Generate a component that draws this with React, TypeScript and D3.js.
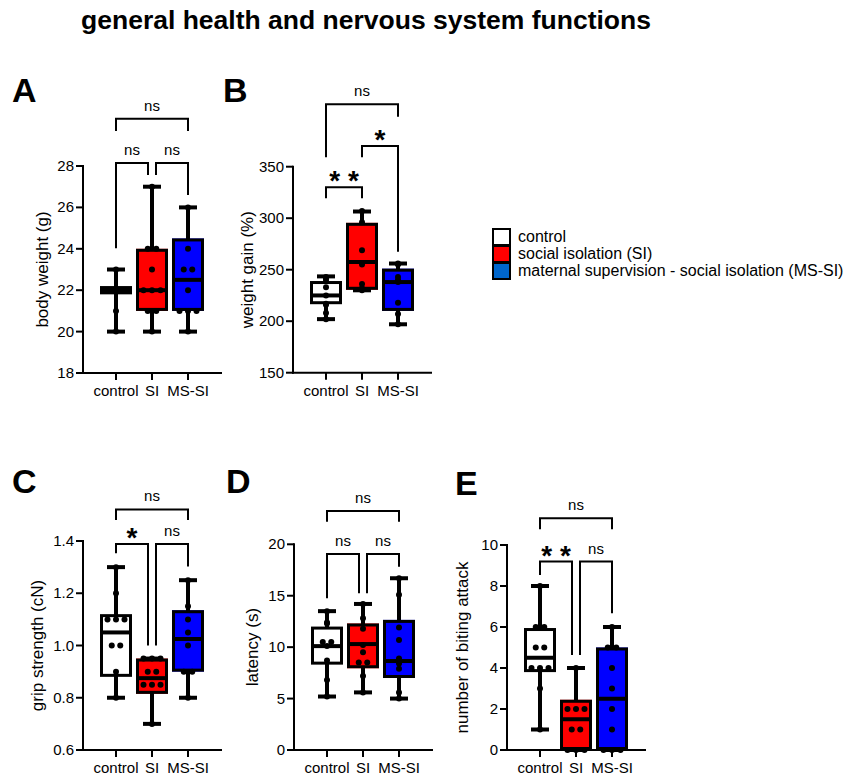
import { useEffect, useRef } from 'react';
import * as d3 from 'd3';

const groups = ['control', 'SI', 'MS-SI'];
const groupFills = ['#ffffff', '#ff0000', '#0000ff'];
const legendLabels = [
  'control',
  'social isolation (SI)',
  'maternal supervision - social isolation (MS-SI)',
];
const legendFills = ['#ffffff', '#ff0000', '#0066cc'];

// box stats per group: [min, q1, median, q3, max]
const bodyWeightBox = [
  [20, 21.8, 22, 22.2, 23],
  [20, 21, 22, 24, 27],
  [20, 21, 22.5, 24.5, 26],
];
const bodyWeightPoints = [
  [20, 21, 22, 22, 22, 22, 23],
  [20, 21, 21, 22, 22, 22, 23, 24, 24, 27],
  [20, 21, 21, 21, 22, 23, 23, 24, 26],
];
const bodyWeightTicks = [18, 20, 22, 24, 26, 28];
const bodyWeightBrackets = [
  { from: 0, to: 2, label: 'ns', level: 30.28, legs: [29.69, 29.69] },
  { from: 0, to: 1, label: 'ns', level: 28.15, legs: [24.03, 27.56] },
  { from: 1, to: 2, label: 'ns', level: 28.15, legs: [27.56, 26.6] },
];

const weightGainBox = [
  [202, 216.5, 225, 239, 243.5],
  [230, 230.5, 257.5, 295.5, 306.5],
  [197, 210, 238, 251, 256],
];
const weightGainPoints = [
  [202, 208, 216, 217, 225, 233, 240, 242, 243],
  [230, 231, 232, 236, 255, 269, 296, 307],
  [197, 207, 218, 238, 240, 243, 255, 256],
];
const weightGainTicks = [150, 200, 250, 300, 350];
const weightGainBrackets = [
  { from: 0, to: 2, label: 'ns', level: 410.6, legs: [359.1, 398.5] },
  { from: 1, to: 2, label: '*', level: 370.1, legs: [359.1, 267.5] },
  { from: 0, to: 1, label: '**', level: 330, legs: [319.3, 319.3] },
];

const gripBox = [
  [0.8, 0.88, 1.05, 1.12, 1.3],
  [0.7, 0.815, 0.875, 0.95, 0.95],
  [0.8, 0.9, 1.025, 1.135, 1.25],
];
const gripPoints = [
  [0.8, 0.9, 1.0, 1.0, 1.1, 1.1, 1.1, 1.2, 1.3],
  [0.7, 0.85, 0.85, 0.85, 0.9, 0.9, 0.95, 0.95, 0.95],
  [0.8, 0.9, 0.9, 1.0, 1.05, 1.1, 1.15, 1.25],
];
const gripTicks = [0.6, 0.8, 1.0, 1.2, 1.4];
const gripBrackets = [
  { from: 0, to: 2, label: 'ns', level: 1.521, legs: [1.48, 1.48] },
  { from: 0, to: 1, label: '*', level: 1.3885, legs: [1.353, 1.0] },
  { from: 1, to: 2, label: 'ns', level: 1.3885, legs: [1.0, 1.302] },
];

const latencyBox = [
  [5.2, 8.3, 10.1, 12.0, 13.5],
  [5.6, 7.95, 10.3, 12.3, 14.2],
  [5.0, 7.0, 8.65, 12.65, 16.7],
];
const latencyPoints = [
  [5.2, 6.8, 8.7, 10.1, 10.5, 10.5, 12.3, 12.4, 13.5],
  [5.6, 7.2, 8.5, 8.5, 9.5, 10.2, 11.8, 12.8, 14.2],
  [5.0, 5.6, 7.9, 8.4, 8.9, 10.7, 11.9, 15.1, 16.7],
];
const latencyTicks = [0, 5, 10, 15, 20];
const latencyBrackets = [
  { from: 0, to: 2, label: 'ns', level: 23.24, legs: [22.2, 22.2] },
  { from: 0, to: 1, label: 'ns', level: 19.06, legs: [14.75, 15.23] },
  { from: 1, to: 2, label: 'ns', level: 19.06, legs: [15.23, 17.82] },
];

const bitingBox = [
  [1, 3.8, 4.5, 5.95, 8],
  [0, 0, 1.5, 2.45, 4],
  [0, 0, 2.5, 5, 6],
];
const bitingPoints = [
  [1, 3, 4, 4, 4, 5, 5, 6, 6, 8],
  [0, 0, 0, 1, 1, 2, 2, 2, 4],
  [0, 0, 0, 1, 2, 3, 4, 5, 5, 6],
];
const bitingTicks = [0, 2, 4, 6, 8, 10];
const bitingBrackets = [
  { from: 0, to: 2, label: 'ns', level: 11.3, legs: [10.77, 10.77] },
  { from: 0, to: 1, label: '**', level: 9.19, legs: [8.54, 4.63] },
  { from: 1, to: 2, label: 'ns', level: 9.19, legs: [4.63, 6.67] },
];

const FONT = "'Liberation Sans', Arial, sans-serif";

const panels = [
  {
    letter: 'A', letterX: 12, letterY: 102, yLabel: 'body weight (g)', labelOff: 35,
    x0: 83, top: 166, bottom: 373, domain: [18, 28], fmt: d3.format('d'),
    box: bodyWeightBox, points: bodyWeightPoints, ticks: bodyWeightTicks, brackets: bodyWeightBrackets,
  },
  {
    letter: 'B', letterX: 223, letterY: 102, yLabel: 'weight gain (%)', labelOff: 40,
    x0: 293, top: 166.7, bottom: 372.7, domain: [150, 350], fmt: d3.format('d'),
    box: weightGainBox, points: weightGainPoints, ticks: weightGainTicks, brackets: weightGainBrackets,
  },
  {
    letter: 'C', letterX: 12, letterY: 493, yLabel: 'grip strength (cN)', labelOff: 40,
    x0: 83, top: 541, bottom: 750, domain: [0.6, 1.4], fmt: d3.format('.1f'),
    box: gripBox, points: gripPoints, ticks: gripTicks, brackets: gripBrackets,
  },
  {
    letter: 'D', letterX: 226, letterY: 493, yLabel: 'latency (s)', labelOff: 36,
    x0: 294, top: 544.3, bottom: 750, domain: [0, 20], fmt: d3.format('d'),
    box: latencyBox, points: latencyPoints, ticks: latencyTicks, brackets: latencyBrackets,
  },
  {
    letter: 'E', letterX: 455, letterY: 495, yLabel: 'number of biting attack', labelOff: 39,
    x0: 507, top: 545, bottom: 750, domain: [0, 10], fmt: d3.format('d'),
    box: bitingBox, points: bitingPoints, ticks: bitingTicks, brackets: bitingBrackets,
  },
];

function drawPanel(svg, p) {
  const x = d3.scalePoint().domain(groups).range([p.x0 + 33, p.x0 + 105]);
  const y = d3.scaleLinear().domain(p.domain).range([p.bottom, p.top]);
  const g = svg.append('g');

  g.append('text')
    .attr('x', p.letterX)
    .attr('y', p.letterY)
    .text(p.letter)
    .style('font-size', '34px')
    .style('font-weight', 'bold');

  // axes
  g.append('line')
    .attr('x1', p.x0).attr('x2', p.x0)
    .attr('y1', p.top - 1).attr('y2', p.bottom + 1)
    .attr('stroke', '#000').attr('stroke-width', 2);
  g.append('line')
    .attr('x1', p.x0 - 1).attr('x2', p.x0 + 139)
    .attr('y1', p.bottom).attr('y2', p.bottom)
    .attr('stroke', '#000').attr('stroke-width', 2);

  g.selectAll('.ytick')
    .data(p.ticks)
    .join('line')
    .attr('x1', p.x0 - 7).attr('x2', p.x0)
    .attr('y1', (d) => y(d)).attr('y2', (d) => y(d))
    .attr('stroke', '#000').attr('stroke-width', 2);
  g.selectAll('.ylab')
    .data(p.ticks)
    .join('text')
    .attr('x', p.x0 - 9)
    .attr('y', (d) => y(d) + 5)
    .attr('text-anchor', 'end')
    .style('font-size', '15px')
    .text((d) => p.fmt(d));

  g.selectAll('.xtick')
    .data(groups)
    .join('line')
    .attr('x1', (d) => x(d)).attr('x2', (d) => x(d))
    .attr('y1', p.bottom).attr('y2', p.bottom + 7)
    .attr('stroke', '#000').attr('stroke-width', 2);
  g.selectAll('.xlab')
    .data(groups)
    .join('text')
    .attr('x', (d) => x(d))
    .attr('y', p.bottom + 23)
    .attr('text-anchor', 'middle')
    .style('font-size', '15px')
    .text((d) => d);

  g.append('text')
    .attr('transform', `translate(${p.x0 - p.labelOff},${(p.top + p.bottom) / 2}) rotate(-90)`)
    .attr('text-anchor', 'middle')
    .style('font-size', '17px')
    .text(p.yLabel);

  // boxes
  const half = 16;
  p.box.forEach((b, i) => {
    const cx = x(groups[i]);
    const [mn, q1, med, q3, mx] = b;
    g.append('rect')
      .attr('x', cx - half).attr('width', half * 2)
      .attr('y', y(q3)).attr('height', Math.max(y(q1) - y(q3), 0))
      .attr('fill', groupFills[i]);
    g.append('line')
      .attr('x1', cx).attr('x2', cx).attr('y1', y(mx)).attr('y2', y(mn))
      .attr('stroke', '#000').attr('stroke-width', 4);
    [mn, mx].forEach((v) => {
      g.append('line')
        .attr('x1', cx - 9).attr('x2', cx + 9).attr('y1', y(v)).attr('y2', y(v))
        .attr('stroke', '#000').attr('stroke-width', 4);
    });
    g.append('rect')
      .attr('x', cx - half + 1.5).attr('width', half * 2 - 3)
      .attr('y', y(q3) + 1.5).attr('height', Math.max(y(q1) - y(q3) - 3, 0))
      .attr('fill', groupFills[i])
      .attr('stroke', '#000').attr('stroke-width', 3);
    g.append('line')
      .attr('x1', cx - half + 1).attr('x2', cx + half - 1).attr('y1', y(med)).attr('y2', y(med))
      .attr('stroke', '#000').attr('stroke-width', 4);

    // points, spread sideways when values repeat
    const counts = d3.rollup(p.points[i], (v) => v.length, (d) => d);
    const seen = new Map();
    const pts = p.points[i].map((v) => {
      const k = counts.get(v);
      const j = seen.get(v) || 0;
      seen.set(v, j + 1);
      return { v, dx: (j - (k - 1) / 2) * 8.5 };
    });
    g.selectAll(null)
      .data(pts)
      .join('circle')
      .attr('cx', (d) => cx + d.dx)
      .attr('cy', (d) => y(d.v))
      .attr('r', 3)
      .attr('fill', '#000');
  });

  // significance brackets
  p.brackets.forEach((b) => {
    let xl = x(groups[b.from]);
    let xr = x(groups[b.to]);
    p.brackets.forEach((o) => {
      if (o === b || o.level !== b.level) return;
      if (o.from === b.to) xr -= 4;
      if (o.to === b.from) xl += 4;
    });
    const h = y(b.level);
    g.append('path')
      .attr('d', `M${xl},${y(b.legs[0])}V${h}H${xr}V${y(b.legs[1])}`)
      .attr('fill', 'none')
      .attr('stroke', '#000')
      .attr('stroke-width', 2);
    const star = b.label.includes('*');
    g.append('text')
      .attr('x', (xl + xr) / 2)
      .attr('y', star ? h + 3 : h - 8)
      .attr('text-anchor', 'middle')
      .style('font-size', star ? '28px' : '15px')
      .style('font-weight', star ? 'bold' : 'normal')
      .text(star ? b.label.split('').join(' ') : b.label);
  });
}

export default function App() {
  const svgRef = useRef(null);

  useEffect(() => {
    const svg = d3.select(svgRef.current);
    svg.selectAll('*').remove();

    svg.append('text')
      .attr('x', 366)
      .attr('y', 29)
      .attr('text-anchor', 'middle')
      .style('font-size', '26.5px')
      .style('font-weight', 'bold')
      .text('general health and nervous system functions');

    panels.forEach((p) => drawPanel(svg, p));

    const legend = svg.append('g');
    legendLabels.forEach((label, i) => {
      legend.append('rect')
        .attr('x', 493).attr('y', 229 + i * 17)
        .attr('width', 17).attr('height', 16)
        .attr('fill', legendFills[i])
        .attr('stroke', '#000').attr('stroke-width', 2);
      legend.append('text')
        .attr('x', 518).attr('y', 242 + i * 17)
        .style('font-size', '16px')
        .text(label);
    });
  }, []);

  return (
    <svg
      ref={svgRef}
      width={847}
      height={779}
      viewBox="0 0 847 779"
      style={{ position: 'absolute', left: 0, top: 0, fontFamily: FONT, background: '#fff' }}
    ></svg>
  );
}
